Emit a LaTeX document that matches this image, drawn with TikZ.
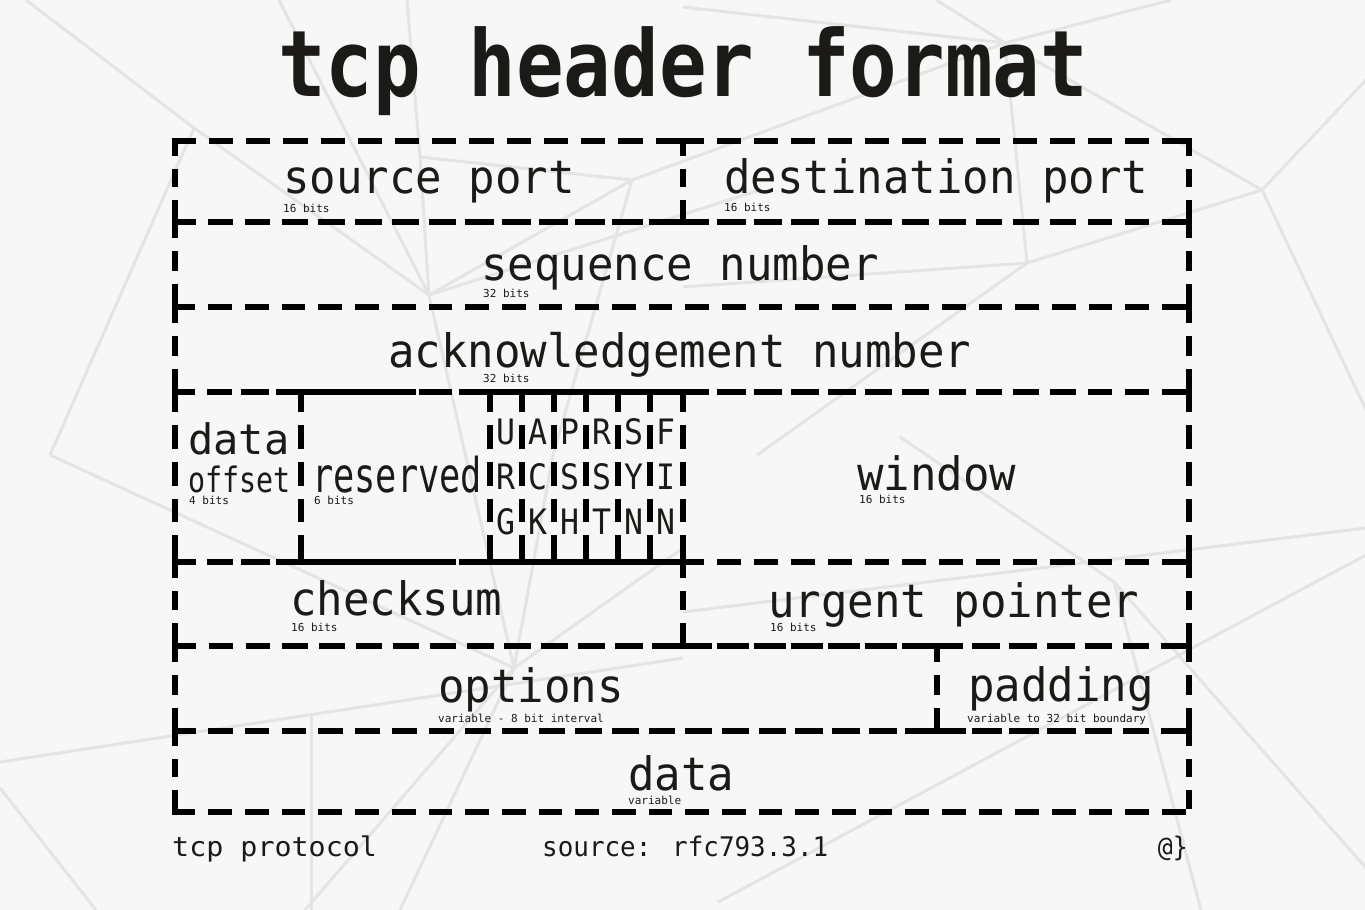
\documentclass[tikz,border=0pt]{standalone}
\usepackage{fontspec}
\usepackage{graphicx}
\newfontfamily\monof{DejaVu Sans Mono}
\newcommand\lab[3]{\scalebox{#2}[1]{\fontsize{#1}{#1}\selectfont\monof #3}}
\definecolor{bg}{HTML}{F7F7F7}
\definecolor{mesh}{HTML}{E4E4E4}
\definecolor{ink}{HTML}{1C1A17}
\tikzset{
  dline/.style={line width=6.5pt, line cap=rect, draw=black},
  cell/.style={rectangle, inner sep=0pt, outer sep=0pt, draw=none},
  txt/.style={anchor=base west, inner sep=0pt, text=ink},
  flagtxt/.style={anchor=base, inner sep=0pt, text=ink},
  meshline/.style={draw=mesh, line width=3pt}
}
% dash pattern so that each edge starts and ends with a dash
\newcommand\dpat[1]{%
  \pgfmathsetmacro\nd{max(1,round((#1+13)/37))}%
  \pgfmathsetmacro\dl{(#1-(\nd-1)*13)/\nd}%
  \pgfmathsetmacro\don{max(0.01,\dl-6.5)}%
  \pgfmathsetmacro\doff{19.5}%
}
\newcommand\cell[5]{%
  \node[cell, minimum width={(#4-#2)*1pt}, minimum height={(#5-#3)*1pt}] (#1) at ({(#2+#4)/2},{(#3+#5)/2}) {};
  \dpat{#4-#2}%
  \draw[dline, dash pattern=on \don pt off \doff pt] (#1.north west) -- (#1.north east);
  \draw[dline, dash pattern=on \don pt off \doff pt] (#1.south west) -- (#1.south east);
  \dpat{#5-#3}%
  \draw[dline, dash pattern=on \don pt off \doff pt] (#1.north west) -- (#1.south west);
  \draw[dline, dash pattern=on \don pt off \doff pt] (#1.north east) -- (#1.south east);
}
\begin{document}
\begin{tikzpicture}[x=1pt,y=-1pt]
\fill[bg] (0,0) rectangle (1365,910);
\useasboundingbox (0,0) rectangle (1365,910);
% background mesh
\begin{scope}
\clip (0,0) rectangle (1365,910);
\draw[meshline] (26,0) -- (194,128) -- (50,455);
\draw[meshline] (194,128) -- (429,295);
\draw[meshline] (279,0) -- (429,295);
\draw[meshline] (407,0) -- (420,157) -- (429,295);
\draw[meshline] (420,157) -- (632,180) -- (1005,43);
\draw[meshline] (632,180) -- (429,295);
\draw[meshline] (632,180) -- (553,455) -- (514,668);
\draw[meshline] (429,295) -- (514,668);
\draw[meshline] (429,295) -- (760,190);
\draw[meshline] (936,0) -- (1005,43) -- (1171,0);
\draw[meshline] (683,7) -- (1005,43);
\draw[meshline] (1005,43) -- (1027,263);
\draw[meshline] (1005,43) -- (1262,190) -- (1366,80);
\draw[meshline] (1262,190) -- (1366,410);
\draw[meshline] (1262,190) -- (1027,263) -- (757,455);
\draw[meshline] (683,287) -- (1027,263);
\draw[meshline] (50,455) -- (514,668);
\draw[meshline] (0,762) -- (683,658);
\draw[meshline] (514,668) -- (305,910);
\draw[meshline] (311,715) -- (311,910);
\draw[meshline] (514,668) -- (683,548);
\draw[meshline] (514,668) -- (400,910);
\draw[meshline] (0,788) -- (96,910);
\draw[meshline] (1366,528) -- (683,612);
\draw[meshline] (1114,582) -- (1201,910);
\draw[meshline] (1114,582) -- (1366,868);
\draw[meshline] (1114,582) -- (900,437);
\draw[meshline] (718,902) -- (1366,555);
\end{scope}
% title
\node[txt] (title) at (278,96) {\lab{92}{0.86}{\bfseries tcp header format}};
% cells
\cell{srcport}{175}{141}{683}{222}
\cell{dstport}{683}{141}{1189}{222}
\cell{seq}{175}{222}{1189}{307}
\cell{ack}{175}{307}{1189}{392}
\cell{doff}{175}{392}{301}{562}
\cell{resv}{301}{392}{490}{562}
\cell{fU}{490}{392}{522}{562}
\cell{fA}{522}{392}{554}{562}
\cell{fP}{554}{392}{586}{562}
\cell{fR}{586}{392}{618}{562}
\cell{fS}{618}{392}{650}{562}
\cell{fF}{650}{392}{683}{562}
\cell{win}{683}{392}{1189}{562}
\cell{chk}{175}{562}{683}{646}
\cell{urg}{683}{562}{1189}{646}
\cell{opt}{175}{646}{937}{731}
\cell{pad}{937}{646}{1189}{731}
\cell{dat}{175}{731}{1189}{812}
% labels
\node[txt] (srcT) at (283,193) {\lab{46}{0.957}{source port}};
\node[txt] (srcB) at (283,212) {\lab{11}{1}{16 bits}};
\node[txt] (dstT) at (724,193) {\lab{46}{0.957}{destination port}};
\node[txt] (dstB) at (724,211) {\lab{11}{1}{16 bits}};
\node[txt] (seqT) at (481,280) {\lab{46}{0.957}{sequence number}};
\node[txt] (seqB) at (483,297) {\lab{11}{1}{32 bits}};
\node[txt] (ackT) at (388,367) {\lab{46}{0.957}{acknowledgement number}};
\node[txt] (ackB) at (483,382) {\lab{11}{1}{32 bits}};
\node[txt] (doT1) at (188,454) {\lab{42}{1.0}{data}};
\node[txt] (doT2) at (188,492) {\lab{35}{0.81}{offset}};
\node[txt] (doB) at (189,504) {\lab{11}{1}{4 bits}};
\node[txt] (rsT) at (312,492) {\lab{48}{0.7355}{reserved}};
\node[txt] (rsB) at (314,504) {\lab{11}{1}{6 bits}};
\foreach \i/\a/\b/\c in {0/U/R/G,1/A/C/K,2/P/S/H,3/R/S/T,4/S/Y/N,5/F/I/N}{
  \node[flagtxt] (fl\i a) at ({506+32*\i},444) {\lab{35}{0.9}{\a}};
  \node[flagtxt] (fl\i b) at ({506+32*\i},489) {\lab{35}{0.9}{\b}};
  \node[flagtxt] (fl\i c) at ({506+32*\i},534) {\lab{35}{0.9}{\c}};
}
\node[txt] (winT) at (857,490) {\lab{46}{0.957}{window}};
\node[txt] (winB) at (859,503) {\lab{11}{1}{16 bits}};
\node[txt] (chkT) at (290,615) {\lab{46}{0.957}{checksum}};
\node[txt] (chkB) at (291,631) {\lab{11}{1}{16 bits}};
\node[txt] (urgT) at (768,617) {\lab{46}{0.957}{urgent pointer}};
\node[txt] (urgB) at (770,631) {\lab{11}{1}{16 bits}};
\node[txt] (optT) at (438,702) {\lab{46}{0.957}{options}};
\node[txt] (optB) at (438,722) {\lab{11}{1}{variable - 8 bit interval}};
\node[txt] (padT) at (968,701) {\lab{46}{0.957}{padding}};
\node[txt] (padB) at (967,722) {\lab{11}{1}{variable to 32 bit boundary}};
\node[txt] (datT) at (628,790) {\lab{46}{0.957}{data}};
\node[txt] (datB) at (628,804) {\lab{11}{1}{variable}};
% footer
\node[txt] (foot1) at (172,856) {\lab{27}{1.05}{tcp protocol}};
\node[txt] (foot2) at (542,856) {\lab{27}{0.96}{source: rfc793.3.1}};
\node[anchor=base east, inner sep=0pt, text=ink] (foot3) at (1188,856) {\lab{27}{0.92}{@\}}};
\end{tikzpicture}
\end{document}
